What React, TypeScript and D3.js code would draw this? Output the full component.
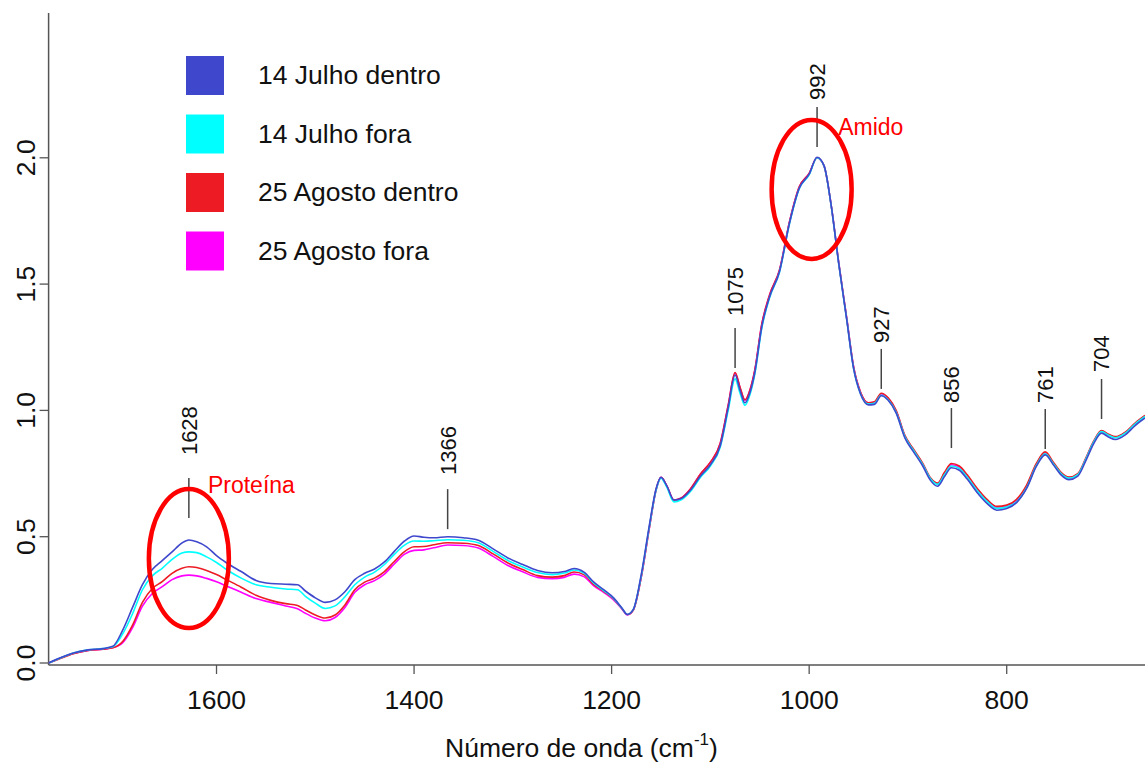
import { scaleLinear, line, curveMonotoneX, format } from 'd3'

// wavenumbers (cm-1), read from high to low
const wavenumbers = [
  1770, 1760, 1745, 1730, 1715, 1705, 1695, 1685, 1675, 1665, 1655, 1645, 1635, 1628, 1620, 1610,
  1600, 1590, 1575, 1560, 1545, 1530, 1518, 1510, 1500, 1490, 1480, 1470, 1460, 1450, 1440, 1430,
  1420, 1410, 1400, 1390, 1380, 1366, 1350, 1335, 1320, 1305, 1290, 1275, 1260, 1248, 1238, 1228,
  1218, 1208, 1198, 1190, 1184, 1178, 1170, 1162, 1155, 1150, 1144, 1137, 1130, 1120, 1110, 1100,
  1090, 1082, 1075, 1070, 1065, 1060, 1055, 1048, 1040, 1030, 1020, 1010, 1000, 992, 985, 978,
  970, 962, 955, 948, 940, 934, 927, 920, 912, 903, 895, 885, 877, 870, 863, 856,
  848, 840, 830, 820, 810, 800, 790, 780, 770, 761, 753, 745, 737, 728, 720, 712,
  704, 697, 690, 680, 670, 660,
]

const julhoDentro = [
  0.000, 0.018, 0.040, 0.052, 0.057, 0.066, 0.130, 0.220, 0.310, 0.370, 0.405, 0.440, 0.475, 0.487, 0.480, 0.460,
  0.425, 0.397, 0.362, 0.327, 0.315, 0.312, 0.310, 0.285, 0.258, 0.240, 0.250, 0.282, 0.330, 0.355, 0.372, 0.400,
  0.442, 0.482, 0.503, 0.498, 0.496, 0.500, 0.496, 0.486, 0.452, 0.416, 0.390, 0.366, 0.357, 0.362, 0.374, 0.360,
  0.320, 0.290, 0.258, 0.220, 0.192, 0.212, 0.350, 0.540, 0.690, 0.735, 0.700, 0.645, 0.650, 0.685, 0.740, 0.785,
  0.860, 1.010, 1.140, 1.080, 1.030, 1.070, 1.150, 1.330, 1.450, 1.550, 1.740, 1.880, 1.935, 2.002, 1.970, 1.820,
  1.580, 1.360, 1.165, 1.065, 1.022, 1.024, 1.058, 1.040, 0.990, 0.890, 0.840, 0.780, 0.722, 0.700, 0.738, 0.773,
  0.763, 0.728, 0.675, 0.632, 0.605, 0.612, 0.635, 0.690, 0.778, 0.824, 0.786, 0.745, 0.726, 0.740, 0.800, 0.868,
  0.910, 0.895, 0.885, 0.903, 0.940, 0.970,
]

const julhoFora = [
  0.000, 0.017, 0.040, 0.052, 0.057, 0.064, 0.115, 0.195, 0.290, 0.345, 0.375, 0.410, 0.435, 0.440, 0.437, 0.420,
  0.398, 0.370, 0.336, 0.310, 0.300, 0.293, 0.290, 0.264, 0.237, 0.216, 0.226, 0.262, 0.310, 0.340, 0.360, 0.390,
  0.430, 0.466, 0.483, 0.482, 0.484, 0.488, 0.486, 0.476, 0.442, 0.406, 0.380, 0.358, 0.350, 0.356, 0.368, 0.356,
  0.316, 0.287, 0.256, 0.219, 0.192, 0.212, 0.345, 0.535, 0.685, 0.732, 0.695, 0.638, 0.645, 0.680, 0.735, 0.780,
  0.855, 1.000, 1.125, 1.068, 1.020, 1.062, 1.145, 1.325, 1.447, 1.548, 1.738, 1.878, 1.932, 2.000, 1.968, 1.818,
  1.578, 1.360, 1.165, 1.066, 1.025, 1.028, 1.060, 1.042, 0.993, 0.895, 0.845, 0.785, 0.728, 0.707, 0.745, 0.780,
  0.770, 0.735, 0.683, 0.640, 0.612, 0.618, 0.638, 0.693, 0.782, 0.828, 0.790, 0.750, 0.732, 0.746, 0.806, 0.874,
  0.916, 0.902, 0.892, 0.910, 0.946, 0.976,
]

const agostoDentro = [
  0.000, 0.015, 0.037, 0.050, 0.055, 0.060, 0.085, 0.150, 0.240, 0.295, 0.322, 0.355, 0.375, 0.381, 0.378, 0.366,
  0.350, 0.330, 0.300, 0.268, 0.248, 0.235, 0.228, 0.210, 0.190, 0.178, 0.190, 0.230, 0.290, 0.320, 0.336, 0.362,
  0.402, 0.440, 0.460, 0.461, 0.468, 0.476, 0.474, 0.465, 0.432, 0.396, 0.370, 0.346, 0.340, 0.346, 0.360, 0.350,
  0.310, 0.284, 0.254, 0.218, 0.192, 0.210, 0.340, 0.530, 0.685, 0.735, 0.700, 0.645, 0.652, 0.690, 0.748, 0.795,
  0.870, 1.020, 1.150, 1.092, 1.042, 1.080, 1.160, 1.340, 1.458, 1.556, 1.745, 1.885, 1.938, 2.000, 1.968, 1.820,
  1.582, 1.365, 1.172, 1.072, 1.030, 1.034, 1.068, 1.050, 1.000, 0.900, 0.850, 0.790, 0.732, 0.712, 0.755, 0.790,
  0.780, 0.745, 0.692, 0.648, 0.620, 0.625, 0.648, 0.703, 0.790, 0.836, 0.796, 0.755, 0.736, 0.750, 0.810, 0.878,
  0.920, 0.906, 0.896, 0.914, 0.950, 0.980,
]

const agostoFora = [
  0.000, 0.016, 0.038, 0.050, 0.055, 0.060, 0.080, 0.140, 0.225, 0.275, 0.302, 0.330, 0.345, 0.348, 0.345, 0.335,
  0.322, 0.305, 0.280, 0.255, 0.240, 0.226, 0.215, 0.197, 0.178, 0.167, 0.180, 0.220, 0.280, 0.310, 0.326, 0.352,
  0.392, 0.430, 0.446, 0.448, 0.456, 0.467, 0.465, 0.455, 0.422, 0.386, 0.361, 0.339, 0.334, 0.339, 0.352, 0.342,
  0.305, 0.280, 0.250, 0.216, 0.190, 0.210, 0.340, 0.530, 0.685, 0.735, 0.700, 0.645, 0.652, 0.690, 0.748, 0.795,
  0.870, 1.020, 1.148, 1.090, 1.040, 1.080, 1.160, 1.340, 1.458, 1.556, 1.745, 1.885, 1.938, 2.000, 1.968, 1.820,
  1.582, 1.365, 1.172, 1.072, 1.030, 1.032, 1.065, 1.048, 0.998, 0.898, 0.848, 0.788, 0.730, 0.710, 0.750, 0.785,
  0.775, 0.740, 0.688, 0.645, 0.617, 0.622, 0.643, 0.698, 0.786, 0.832, 0.792, 0.752, 0.734, 0.748, 0.808, 0.876,
  0.918, 0.904, 0.894, 0.912, 0.948, 0.978,
]

const seriesNames = ['14 Julho dentro', '14 Julho fora', '25 Agosto dentro', '25 Agosto fora']
const seriesColors = ['#3f48cc', '#00ffff', '#ed1c24', '#ff00ff']
const seriesValues = [julhoDentro, julhoFora, agostoDentro, agostoFora]

const xTicks = [1600, 1400, 1200, 1000, 800]
const yTicks = [0, 0.5, 1, 1.5, 2]

// marked peaks: wavenumber, level of the bottom of the marker line, level of the label's start
const peakLabels = [1628, 1366, 1075, 992, 927, 856, 761, 704]
const peakLineBase = [0.574, 0.53, 1.168, 2.043, 1.085, 0.851, 0.847, 0.966]
const peakTextBase = [0.823, 0.744, 1.374, 2.229, 1.267, 1.029, 1.029, 1.152]

// circled bands
const bandNames = ['Proteína', 'Amido']
const bandCenters = [1628, 997.5]
const bandLevels = [0.414, 1.875]
const bandTextAt = [1608.7, 970.6]
const bandTextLevel = [0.673, 2.09]

const width = 1145
const height = 762
const plotLeft = 48.6
const plotRight = 1145
const plotTop = 13
const plotBottom = 665
const font = '"Liberation Sans", Arial, sans-serif'

function App() {
  const xScale = scaleLinear().domain([1770, 660]).range([plotLeft, plotRight])
  const yScale = scaleLinear().domain([0, 2]).range([663, 157.8])
  const fmt = format('.1f')

  const path = (vals: number[]) =>
    line<number>()
      .x((_, i) => xScale(wavenumbers[i]))
      .y((d) => yScale(d))
      .curve(curveMonotoneX)(vals) || ''

  const order = [3, 2, 1, 0]

  return (
    <svg
      width={width}
      height={height}
      style={{ position: 'absolute', left: 0, top: 0, display: 'block', background: '#fff' }}
      fontFamily={font}
    >
      <defs>
        <clipPath id="plot">
          <rect x={plotLeft} y={plotTop} width={plotRight - plotLeft} height={plotBottom - plotTop} />
        </clipPath>
      </defs>

      {/* axes */}
      <line x1={plotLeft} x2={plotLeft} y1={plotTop} y2={plotBottom} stroke="#555" strokeWidth={1.5} />
      <line x1={plotLeft} x2={plotRight} y1={plotBottom} y2={plotBottom} stroke="#555" strokeWidth={1.5} />
      {yTicks.map((t) => (
        <g key={'y' + t}>
          <line x1={plotLeft - 9} x2={plotLeft} y1={yScale(t)} y2={yScale(t)} stroke="#555" strokeWidth={1.3} />
          <text
            transform={`translate(35,${yScale(t)}) rotate(-90)`}
            textAnchor="middle"
            fontSize={26.5}
            fill="#111"
          >
            {fmt(t)}
          </text>
        </g>
      ))}
      {xTicks.map((t) => (
        <g key={'x' + t}>
          <line x1={xScale(t)} x2={xScale(t)} y1={plotBottom} y2={plotBottom + 9} stroke="#555" strokeWidth={1.3} />
          <text x={xScale(t)} y={709} textAnchor="middle" fontSize={26.5} fill="#111">
            {t}
          </text>
        </g>
      ))}
      <text x={445} y={757} fontSize={26.5} fill="#111">
        Número de onda (cm
        <tspan fontSize={17} dy={-12}>-1</tspan>
        <tspan dy={12}>)</tspan>
      </text>

      {/* spectra */}
      <g clipPath="url(#plot)">
        {order.map((i) => (
          <path key={seriesNames[i]} d={path(seriesValues[i])} fill="none" stroke={seriesColors[i]} strokeWidth={1.6} />
        ))}
      </g>

      {/* peak markers */}
      {peakLabels.map((p, i) => (
        <g key={'p' + p}>
          <line
            x1={xScale(p)}
            x2={xScale(p)}
            y1={yScale(peakLineBase[i])}
            y2={yScale(peakLineBase[i]) - 40}
            stroke="#444"
            strokeWidth={1.5}
          />
          <text
            transform={`translate(${xScale(p)},${yScale(peakTextBase[i])}) rotate(-90)`}
            dy="0.36em"
            fontSize={22}
            fill="#111"
          >
            {p}
          </text>
        </g>
      ))}

      {/* circled bands */}
      {bandNames.map((b, i) => (
        <g key={b}>
          <ellipse
            cx={xScale(bandCenters[i])}
            cy={yScale(bandLevels[i])}
            rx={40}
            ry={69.5}
            fill="none"
            stroke="#ff0000"
            strokeWidth={4.5}
          />
          <text x={xScale(bandTextAt[i])} y={yScale(bandTextLevel[i])} fontSize={23} fill="#ff0000">
            {b}
          </text>
        </g>
      ))}

      {/* legend */}
      {seriesNames.map((n, i) => (
        <g key={'l' + n}>
          <rect x={186} y={56 + i * 58.5} width={38} height={39} fill={seriesColors[i]} />
          <text x={258} y={84 + i * 58.5} fontSize={26.5} fill="#111">
            {n}
          </text>
        </g>
      ))}
    </svg>
  )
}

export default App
